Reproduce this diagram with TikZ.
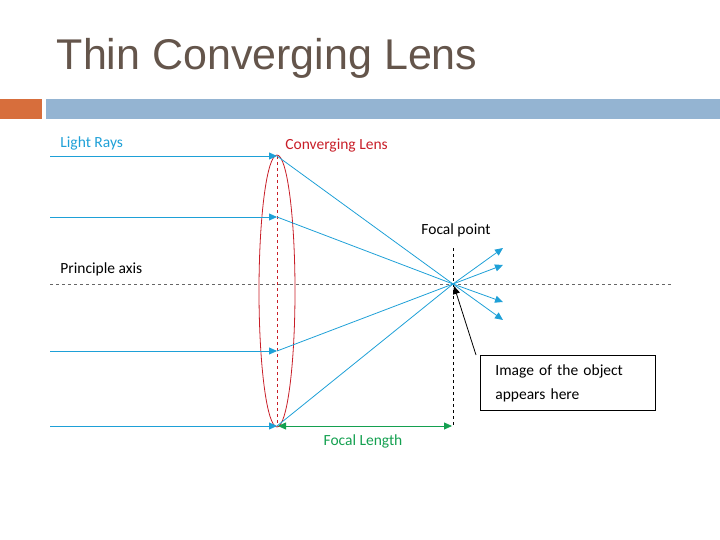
\documentclass[tikz,border=0pt]{standalone}
\usepackage{fontspec}
\setmainfont{Carlito}
\newfontfamily\titlefont{Liberation Sans}
\usetikzlibrary{arrows.meta}
\definecolor{raycol}{RGB}{30,160,215}
\definecolor{lenscol}{RGB}{200,30,40}
\definecolor{lengthcol}{RGB}{20,160,80}
\definecolor{titlecol}{RGB}{100,85,75}
\definecolor{barcol}{RGB}{148,180,210}
\definecolor{tabcol}{RGB}{215,110,60}
\tikzset{ray/.style={draw=raycol,-{Triangle[length=8pt,width=7pt]}}}
\tikzset{label text/.style={font=\fontsize{15.5}{18}\selectfont,inner sep=0pt}}
\tikzset{axis line/.style={draw=black!60,dashed}}
\begin{document}
\begin{tikzpicture}[x=1pt,y=-1pt,line width=0.8pt]
  \useasboundingbox (0,0) rectangle (720,540);
  \node[anchor=west,text=titlecol,font=\titlefont\fontsize{43}{50}\selectfont] (title) at (53,58) {Thin Converging Lens};
  \fill[tabcol] (0,99) rectangle (42,119);
  \fill[barcol] (46,99) rectangle (720,119);
  % principal axis and lens
  \draw[axis line] (50,284) -- (672,284);
  \draw[lenscol] (277,291) ellipse (18 and 136);
  \draw[lenscol,dashed] (277,156) -- (277,426);
  \coordinate (F) at (453,284);
  \draw[black,dashed,thick] (453,248) -- (453,426);
  % rays
  \foreach \y in {156,217,351,426}{
    \coordinate (L\y) at (277,\y);
    \draw[ray] (50,\y) -- (L\y);
    \draw[draw=raycol] (L\y) -- (F);
  }
  \foreach \ex/\ey in {503/248,503/265,503/302,503/320}
    \draw[ray] (F) -- (\ex,\ey);
  \draw[lengthcol,{Triangle[length=8pt,width=7pt]}-{Triangle[length=8pt,width=7pt]}] (278,426) -- (452,426);
  % labels
  \node[label text,anchor=west,text=raycol] (rays) at (60,143) {Light Rays};
  \node[label text,anchor=west,text=lenscol] (lens) at (285,146) {Converging Lens};
  \node[label text,anchor=west] (axis) at (60,269) {Principle axis};
  \node[label text] (fp) at (456,230) {Focal point};
  \node[label text,text=lengthcol] (fl) at (363,441) {Focal Length};
  \node[draw,thick,anchor=north west,minimum width=175pt,minimum height=55pt,
        align=left,text width=165pt,label text,inner sep=0pt,font=\fontsize{15.5}{24}\selectfont] (box) at (480,355)
        {\hspace*{10pt}Image of the object\\\hspace*{10pt}appears here};
  \coordinate (boxfoot) at (476,355);
  \draw[-{Triangle[length=8pt,width=7pt]},thick] (boxfoot) -- (454,286);
\end{tikzpicture}
\end{document}
